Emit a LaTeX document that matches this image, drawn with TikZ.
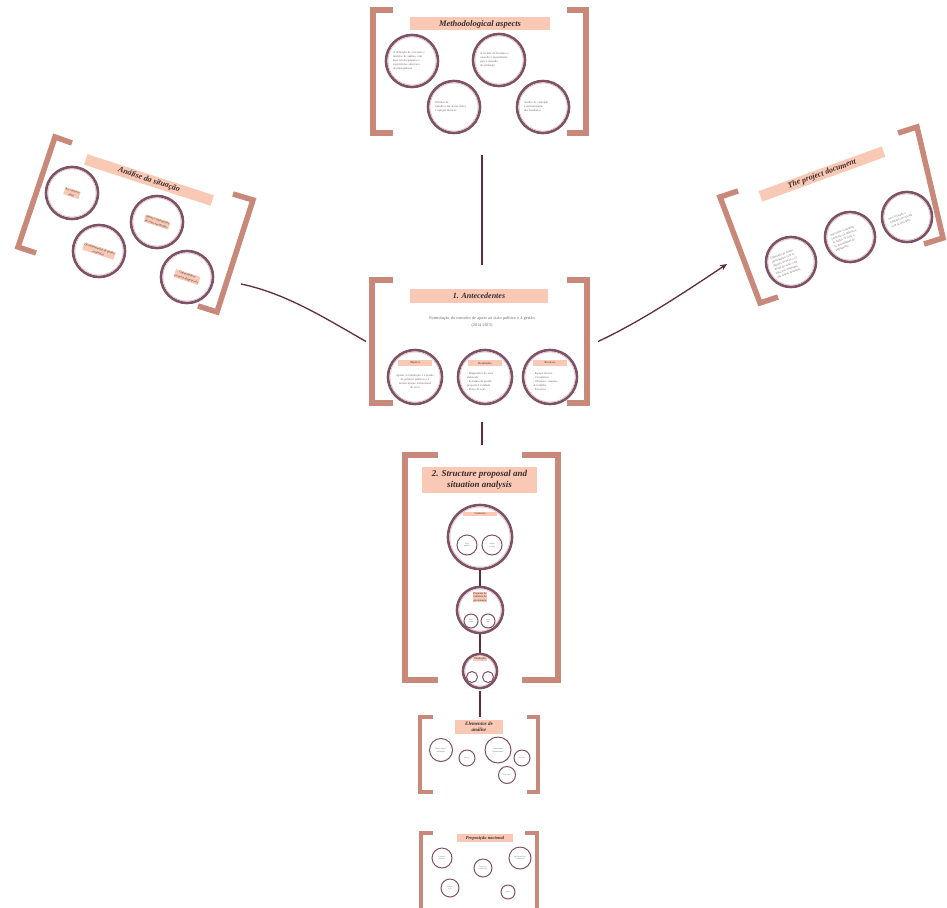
\documentclass[tikz,border=0pt]{standalone}
\usepackage{fontspec}
\setmainfont{Liberation Serif}
\usetikzlibrary{arrows.meta}
\definecolor{brk}{HTML}{C8897A}
\definecolor{tabfill}{HTML}{F9C9B5}
\definecolor{ringc}{HTML}{7E5264}
\definecolor{ringl}{HTML}{DCC0C8}
\definecolor{linkc}{HTML}{5E2D39}
\definecolor{ink}{HTML}{3A2B2D}
\definecolor{grayt}{HTML}{6E6064}
\tikzset{
 brack/.style={draw=brk, line width=5.5pt, line join=miter},
 sbrack/.style={draw=brk, line width=3.6pt, line join=miter},
 ttl/.style={fill=tabfill, inner sep=0pt, text=ink, font=\bfseries\itshape\fontsize{8.5}{10.5}\selectfont, align=center},
 tab/.style={fill=tabfill, inner sep=0.6pt, text=ink, font=\fontsize{3}{4.4}\selectfont, align=center},
 rg/.style={circle, draw=ringc, line width=2.6pt, inner sep=0pt, fill=white},
 srg/.style={circle, draw=ringc, line width=1pt, inner sep=0pt, fill=white},
 tt/.style={text=grayt, font=\fontsize{2.9}{4}\selectfont, align=left, inner sep=0pt},
 lk/.style={draw=linkc, line width=1.3pt},
 frm/.style={inner sep=0pt, outer sep=0pt, draw=none, rectangle},
}
\newcommand\ringnode[4]{%
 \node[rg, minimum size=#4*2pt] (#1) at (#2,#3) {};
 \draw[ringl, line width=0.7pt] (#1.center) circle[radius=#4pt-1.9pt];
}
\begin{document}
\begin{tikzpicture}[x=1pt,y=-1pt]
\useasboundingbox (0,0) rectangle (947,907);
\fill[white] (0,0) rectangle (947,907);

% invisible frame nodes
\node[frm, minimum width=220pt, minimum height=124pt] (meth) at (482,72) {};
\node[frm, minimum width=232pt, minimum height=124pt] (ante) at (482,341.5) {};
\node[frm, minimum width=160pt, minimum height=226pt] (struct) at (482,567.5) {};
\node[frm, minimum width=124pt, minimum height=76pt] (elem) at (480,754.5) {};
\coordinate (lftOut) at (241,284);
\coordinate (rgtIn) at (727,264);

% ===== Methodological aspects =====
\draw[brack] (393,10) -- (373,10) -- (373,133) -- (393,133);
\draw[brack] (567,10) -- (586,10) -- (586,133) -- (567,133);
\node[ttl, minimum width=140pt, minimum height=13pt] (methT) at (480,24) {Methodological aspects};
\ringnode{m1}{412}{61}{26}
\ringnode{m2}{499}{60}{26}
\ringnode{m3}{454}{107}{26}
\ringnode{m4}{543}{107}{26}
\node[tt, text width=38pt] (m1x) at (412,61) {A definição de conceitos e\\ modelos de análise, com\\ base em documentos e\\ experiências anteriores\\ de planejamento};
\node[tt, text width=38pt] (m2x) at (499,60) {A revisão de literatura e\\ consulta a especialistas\\ para o desenho\\ da estratégia};
\node[tt, text width=38pt] (m3x) at (454,107) {Oficinas de\\ trabalho com atores-chave\\ e equipes técnicas};
\node[tt, text width=38pt] (m4x) at (543,107) {Análise de conteúdo\\ e sistematização\\ dos resultados};

% ===== Análise da situação (left) =====
\draw[brack] (72,143) -- (55,137) -- (18,247) -- (36,253);
\draw[brack] (233,194) -- (253,200) -- (217,312) -- (198,306);
\node[ttl, rotate=-18, minimum width=133pt, minimum height=11pt, font=\bfseries\itshape\fontsize{8}{10}\selectfont] (lftT) at (149,180) {Análise da situação};
\ringnode{l1}{72}{193}{26}
\ringnode{l2}{157}{222}{26}
\ringnode{l3}{99}{251}{26}
\ringnode{l4}{187}{277}{26}
\node[tab, rotate=-18] (l1t) at (72,193) {Ao contexto\\ atual};
\node[tab, rotate=-18] (l2t) at (157,222) {Atores e instituições\\ do setor envolvidos};
\node[tab, rotate=-18] (l3t) at (99,251) {Os instrumentos de gestão\\ existentes};
\node[tab, rotate=-18] (l4t) at (187,277) {Capacidades e\\ recursos disponíveis};

% ===== The project document (right) =====
\draw[brack] (738,191) -- (720,197) -- (760,303) -- (778,297);
\draw[brack] (898,133) -- (917,127) -- (943,238) -- (924,244);
\node[ttl, rotate=20, minimum width=131pt, minimum height=11pt, font=\bfseries\itshape\fontsize{8}{10}\selectfont] (rgtT) at (822,174) {The project document};
\ringnode{r1}{791}{262}{25}
\ringnode{r2}{850}{237}{25}
\ringnode{r3}{907}{217}{25}
\node[tt, rotate=20, text width=36pt] (r1x) at (791,262) {Elaborado de forma\\ participativa com as\\ equipes técnicas e os\\ atores do setor, com\\ base nos resultados\\ das etapas anteriores};
\node[tt, rotate=20, text width=36pt] (r2x) at (850,237) {Apresenta a estrutura\\ proposta, os objetivos,\\ as linhas de ação e\\ os mecanismos de\\ seguimento};
\node[tt, rotate=20, text width=36pt] (r3x) at (907,217) {Será revisado e\\ validado em oficina\\ com os parceiros};

% ===== 1. Antecedentes (center) =====
\draw[brack] (393,280) -- (372,280) -- (372,403) -- (393,403);
\draw[brack] (567,280) -- (587,280) -- (587,403) -- (567,403);
\node[ttl, minimum width=138pt, minimum height=14pt, font=\bfseries\itshape\fontsize{8}{10}\selectfont] (anteT) at (479,296) {1. Antecedentes};
\node[tt, align=center, text width=150pt, font=\fontsize{4.2}{6.5}\selectfont] (anteS) at (482,322) {Formulação do conceito de apoio ao ciclo político e à gestão\\ (2014-2015)};
\ringnode{a1}{415}{377}{27}
\ringnode{a2}{485}{377}{27}
\ringnode{a3}{550}{377}{27}
\node[tab, minimum width=34pt, minimum height=6pt] (a1t) at (415,363) {Objetivo};
\node[tab, minimum width=34pt, minimum height=6pt] (a2t) at (485,363) {Resultados};
\node[tab, minimum width=34pt, minimum height=6pt] (a3t) at (550,363) {Recursos};
\node[tt, align=center, text width=40pt] (a1x) at (415,381) {Apoiar a formulação e a gestão\\ de políticas públicas e o\\ fortalecimento institucional\\ do setor};
\node[tt, text width=36pt] (a2x) at (485,382) {- Diagnóstico do setor\\ elaborado\\ - Estrutura de gestão\\ proposta e validada\\ - Plano de ação};
\node[tt, text width=34pt] (a3x) at (550,382) {- Equipe técnica\\ - Consultores\\ - Oficinas e reuniões\\ de trabalho\\ - Parceiros};

% ===== 2. Structure proposal =====
\draw[brack] (438,455) -- (405,455) -- (405,680) -- (438,680);
\draw[brack] (522,455) -- (558,455) -- (558,680) -- (522,680);
\node[ttl, minimum width=115pt, minimum height=26pt, font=\bfseries\itshape\fontsize{9}{11.5}\selectfont] (structT) at (479.5,480) {2. Structure proposal and\\ situation analysis};
\ringnode{s1}{480}{537}{32}
\ringnode{s2}{480}{610}{23}
\ringnode{s3}{480}{671}{17}
\node[tab, minimum width=34pt] (s1t) at (480,514) {Contexto};
\node[tab, font=\fontsize{2.8}{3.6}\selectfont] (s2t) at (480,597) {Proposta de\\ estrutura de\\ governança};
\node[tab] (s3t) at (480,659) {Validação};
\node[srg, minimum size=20pt] (s1a) at (467,545) {};
\node[srg, minimum size=20pt] (s1b) at (492,545) {};
\node[srg, minimum size=14pt] (s2a) at (471,621) {};
\node[srg, minimum size=14pt] (s2b) at (488,621) {};
\node[srg, minimum size=11pt] (s3a) at (472,677) {};
\node[srg, minimum size=11pt] (s3b) at (488,677) {};
\node[tt, align=center, font=\fontsize{2}{2.8}\selectfont] (s1ax) at (467,545) {Setor\\ público};
\node[tt, align=center, font=\fontsize{2}{2.8}\selectfont] (s1bx) at (492,545) {Atores\\ e redes};
\node[tt, align=center, font=\fontsize{1.8}{2.6}\selectfont] (s2ax) at (471,621) {Nível\\ central};
\node[tt, align=center, font=\fontsize{1.8}{2.6}\selectfont] (s2bx) at (488,621) {Nível\\ local};
\draw[lk, line width=1.1pt] (s1) -- (s2);
\draw[lk, line width=1.1pt] (s2) -- (s3);

% ===== Elementos de análise =====
\draw[sbrack] (433,717) -- (420,717) -- (420,792) -- (433,792);
\draw[sbrack] (527,717) -- (538,717) -- (538,792) -- (527,792);
\node[ttl, minimum width=48pt, minimum height=14pt, font=\bfseries\itshape\fontsize{5}{6.2}\selectfont] (elemT) at (479,726.5) {Elementos de\\ análise};
\node[srg, minimum size=23pt] (e1) at (441,750) {};
\node[srg, minimum size=16pt] (e2) at (467,758) {};
\node[srg, minimum size=26pt] (e3) at (498,750) {};
\node[srg, minimum size=16pt] (e4) at (522,758) {};
\node[srg, minimum size=17pt] (e5) at (507,775) {};
\node[tt, align=center, font=\fontsize{2}{2.8}\selectfont] (e1x) at (441,750) {Marco legal e\\ normativo};
\node[tt, align=center, font=\fontsize{1.8}{2.6}\selectfont] (e2x) at (467,758) {Atores};
\node[tt, align=center, font=\fontsize{2}{2.8}\selectfont] (e3x) at (498,750) {Capacidades\\ institucionais};
\node[tt, align=center, font=\fontsize{1.8}{2.6}\selectfont] (e4x) at (522,758) {Recursos};
\node[tt, align=center, font=\fontsize{1.8}{2.6}\selectfont] (e5x) at (507,775) {Processos};

% ===== Proposição nacional =====
\draw[sbrack] (433,833) -- (421,833) -- (421,910);
\draw[sbrack] (525,833) -- (537,833) -- (537,910);
\node[ttl, minimum width=56pt, minimum height=8pt, font=\bfseries\itshape\fontsize{4.5}{5.5}\selectfont] (propT) at (485,838) {Proposição nacional};
\node[srg, minimum size=20pt] (p1) at (442,858) {};
\node[srg, minimum size=18pt] (p2) at (483,868) {};
\node[srg, minimum size=22pt] (p3) at (520,858) {};
\node[srg, minimum size=18pt] (p4) at (450,888) {};
\node[srg, minimum size=14pt] (p5) at (508,892) {};
\node[tt, align=center, font=\fontsize{1.8}{2.6}\selectfont] (p1x) at (442,858) {Estrutura\\ proposta};
\node[tt, align=center, font=\fontsize{1.8}{2.6}\selectfont] (p2x) at (483,868) {Funções e\\ atribuições};
\node[tt, align=center, font=\fontsize{1.8}{2.6}\selectfont] (p3x) at (520,858) {Mecanismos de\\ coordenação};
\node[tt, align=center, font=\fontsize{1.8}{2.6}\selectfont] (p4x) at (450,888) {Plano de\\ ação};
\node[tt, align=center, font=\fontsize{1.8}{2.6}\selectfont] (p5x) at (508,892) {Metas};

% ===== connectors =====
\draw[lk, shorten <=21pt, shorten >=14.5pt] (meth.south) -- (ante.north);
\draw[lk, shorten <=18.5pt, shorten >=9.5pt] (ante.south) -- (struct.north);
\draw[lk, line width=1.1pt, shorten <=2pt] (s3.south) -- (elem.north);
\draw[lk] (lftOut) .. controls (285,293) and (325,318) .. (ante.west);
\draw[lk, -{Stealth[length=7pt,width=6pt]}] (ante.east) .. controls (640,322) and (685,292) .. (rgtIn);
\end{tikzpicture}
\end{document}
